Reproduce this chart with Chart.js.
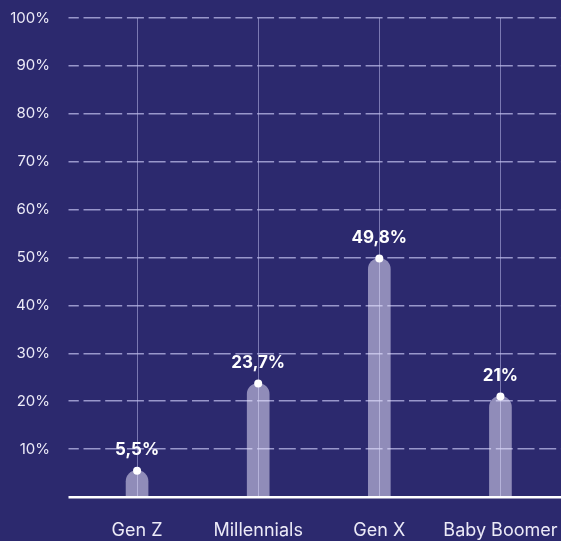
<!DOCTYPE html>
<html>
<head>
<meta charset="utf-8">
<script src="https://cdn.jsdelivr.net/npm/chart.js@4/dist/chart.umd.min.js"></script>
<style>
  html, body { margin: 0; padding: 0; background: #2c296e; }
  #wrap { width: 561px; height: 541px; position: relative; }
</style>
</head>
<body>
<div id="wrap"><canvas id="c" width="561" height="541"></canvas></div>
<script>
const categories = ['Gen Z', 'Millennials', 'Gen X', 'Baby Boomer'];
const values = [5.5, 23.7, 49.8, 21];
const valueLabels = ['5,5%', '23,7%', '49,8%', '21%'];
const yTicks = [0, 10, 20, 30, 40, 50, 60, 70, 80, 90, 100];

const BG = '#2c296e';
const TEXT = '#eceaf7';
const DASH = 'rgba(190,188,235,0.75)';
const VLINE = 'rgba(190,188,235,0.55)';
const FONT = 'Inter, "DejaVu Sans", sans-serif';

const bgPlugin = {
  id: 'bg',
  beforeDraw(chart) {
    const ctx = chart.ctx;
    ctx.save();
    ctx.fillStyle = BG;
    ctx.fillRect(0, 0, chart.width, chart.height);
    ctx.restore();
  }
};

const labelPlugin = {
  id: 'vlabels',
  afterDatasetsDraw(chart) {
    const meta = chart.getDatasetMeta(1);
    const ctx = chart.ctx;
    ctx.save();
    ctx.fillStyle = '#ffffff';
    ctx.font = 'bold 17px ' + FONT;
    ctx.textAlign = 'center';
    ctx.textBaseline = 'middle';
    meta.data.forEach((pt, i) => {
      ctx.fillText(valueLabels[i], pt.x, pt.y - 21);
    });
    ctx.restore();
  }
};

const isZero = (c) => c.tick && c.tick.value === 0;
const zeroPad = (scale) => {
  scale.paddingTop = 0; scale.paddingBottom = 0;
  scale.paddingLeft = 0; scale.paddingRight = 0;
};

new Chart(document.getElementById('c'), {
  data: {
    labels: categories,
    datasets: [
      {
        type: 'bar',
        data: values,
        backgroundColor: 'rgba(235,232,255,0.52)',
        borderWidth: 0,
        borderRadius: { topLeft: 11, topRight: 11, bottomLeft: 0, bottomRight: 0 },
        borderSkipped: 'bottom',
        barThickness: 22,
        order: 2
      },
      {
        type: 'line',
        data: values,
        showLine: false,
        pointRadius: 4,
        pointBackgroundColor: '#ffffff',
        pointBorderWidth: 0,
        order: 1
      }
    ]
  },
  options: {
    responsive: false,
    animation: false,
    devicePixelRatio: 1,
    layout: { autoPadding: false, padding: { top: 18, right: 0, left: 0, bottom: 0 } },
    plugins: { legend: { display: false }, tooltip: { enabled: false } },
    scales: {
      x: {
        offset: true,
        grid: { offset: false, color: VLINE, lineWidth: 1, drawTicks: false },
        border: { display: false },
        ticks: {
          color: TEXT,
          padding: 23,
          font: { family: FONT, size: 18 },
          maxRotation: 0,
          autoSkip: false
        },
        afterFit(scale) { scale.height = 44; zeroPad(scale); }
      },
      y: {
        min: 0,
        max: 100,
        afterBuildTicks(scale) { scale.ticks = yTicks.map(v => ({ value: v })); },
        ticks: {
          color: TEXT,
          padding: 18.5,
          font: { family: FONT, size: 15 },
          callback: (v) => v === 0 ? '' : v + '%'
        },
        grid: {
          color: (c) => isZero(c) ? '#ffffff' : DASH,
          lineWidth: (c) => isZero(c) ? 2.5 : 1.5,
          tickColor: (c) => isZero(c) ? '#ffffff' : DASH,
          tickWidth: (c) => isZero(c) ? 2.5 : 1.5,
          tickLength: 8,
          tickBorderDash: []
        },
        border: {
          display: false,
          dash: (c) => isZero(c) ? [] : [17, 4.7],
          dashOffset: 15.2
        },
        afterFit(scale) { scale.width = 76.5; zeroPad(scale); }
      }
    }
  },
  plugins: [bgPlugin, labelPlugin]
});
</script>
</body>
</html>
